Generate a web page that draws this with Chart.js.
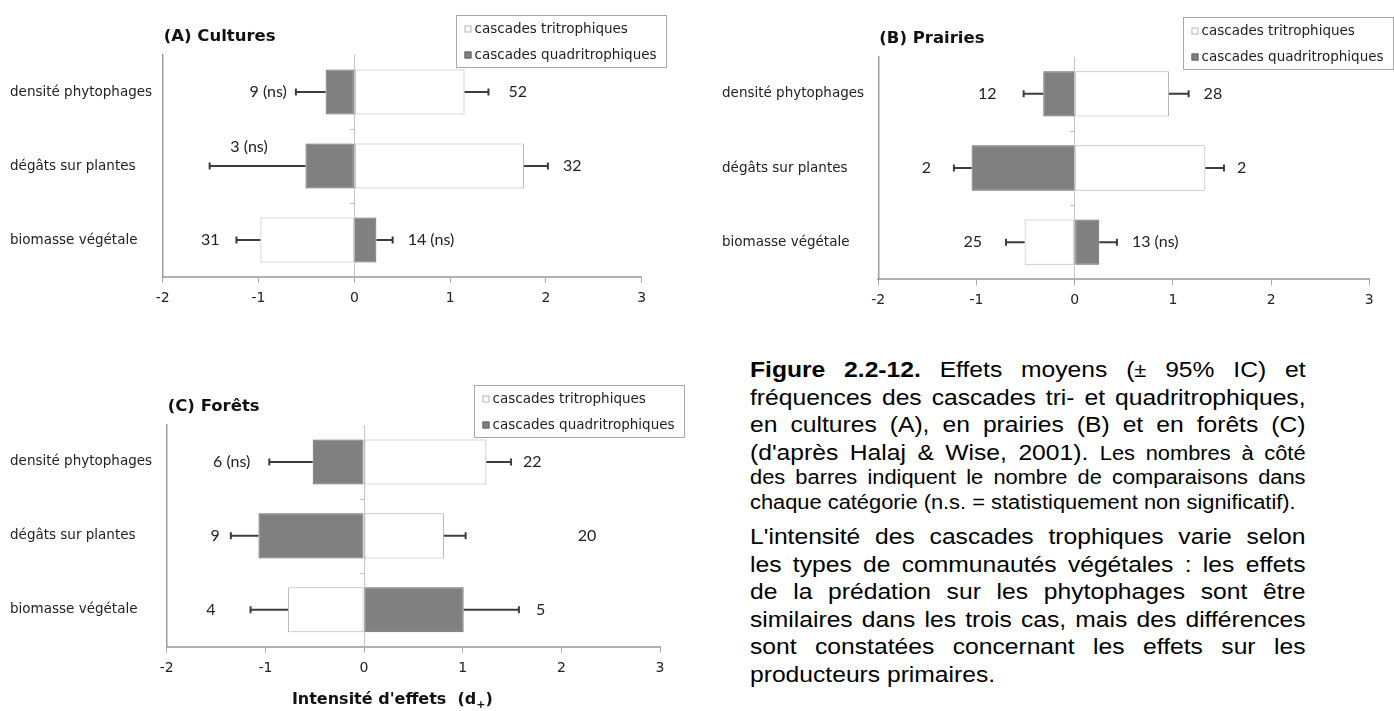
<html>
  <head>
    <!-- Chart.js -->
    <script src="https://cdn.jsdelivr.net/npm/chart.js@4.4.0/dist/chart.umd.min.js"></script>
    <style>
      body {
        margin: 0;
        background: #fff;
        width: 1394px;
        height: 711px;
        overflow: hidden;
        position: relative;
      }
      canvas { position: absolute; }
      #caption {
        position: absolute;
        left: 750px;
        top: 356px;
        width: 496px;
        font-family: 'Liberation Sans', Arial, sans-serif;
        color: #000;
        transform: scaleX(1.12);
        transform-origin: 0 0;
      }
      .ln {
        font-size: 22px;
        height: 27.7px;
        line-height: 27.7px;
        text-align: justify;
        text-align-last: justify;
      }
      .sm { font-size: 19.5px; }
      .last { text-align-last: left; }
    </style>
  </head>

  <body>
    <canvas id="chartA" width="700" height="335" style="left:0px; top:0px;"></canvas>
    <canvas id="chartB" width="694" height="335" style="left:700px; top:0px;"></canvas>
    <canvas id="chartC" width="700" height="371" style="left:0px; top:340px;"></canvas>

    <div id="caption">
      <div class="ln"><b>Figure 2.2-12.</b> Effets moyens (<span class="sm">±</span> 95% IC) et</div>
      <div class="ln">fréquences des cascades tri- et quadritrophiques,</div>
      <div class="ln">en cultures (A), en prairies (B) et en forêts (C)</div>
      <div class="ln" style="height:26.3px;">(d'après Halaj &amp; Wise, 2001). <span class="sm">Les nombres à côté</span></div>
      <div class="ln sm" style="height:25px; line-height:25px;">des barres indiquent le nombre de comparaisons dans</div>
      <div class="ln sm last" style="height:25px; line-height:25px;">chaque catégorie (n.s. = statistiquement non significatif).</div>
      <div class="ln" style="margin-top:7.7px; height:27.6px; line-height:27.6px;">L'intensité des cascades trophiques varie selon</div>
      <div class="ln" style="height:27.6px; line-height:27.6px;">les types de communautés végétales : les effets</div>
      <div class="ln" style="height:27.6px; line-height:27.6px;">de la prédation sur les phytophages sont être</div>
      <div class="ln" style="height:27.6px; line-height:27.6px;">similaires dans les trois cas, mais des différences</div>
      <div class="ln" style="height:27.6px; line-height:27.6px;">sont constatées concernant les effets sur les</div>
      <div class="ln last" style="height:27.6px; line-height:27.6px;">producteurs primaires.</div>
    </div>
  </body>

  <script>
    var categories = ['densité phytophages', 'dégâts sur plantes', 'biomasse végétale'];
    var seriesNames = ['cascades tritrophiques', 'cascades quadritrophiques'];
    var xMin = -2;
    var xMax = 3;

    // (A) Cultures : mean effect, end of the 95% CI, number of comparisons
    var triA = [1.15, 1.77, -0.98];
    var triCiA = [1.40, 2.02, -1.23];
    var triNA = ['52', '32', '31'];
    var quadA = [-0.30, -0.51, 0.23];
    var quadCiA = [-0.61, -1.51, 0.40];
    var quadNA = ['9 (ns)', '3 (ns)', '14 (ns)'];

    // (B) Prairies
    var triB = [0.96, 1.33, -0.51];
    var triCiB = [1.16, 1.52, -0.70];
    var triNB = ['28', '2', '25'];
    var quadB = [-0.32, -1.05, 0.25];
    var quadCiB = [-0.52, -1.23, 0.43];
    var quadNB = ['12', '2', '13 (ns)'];

    // (C) Forêts
    var triC = [1.24, 0.81, -0.77];
    var triCiC = [1.49, 1.03, -1.15];
    var triNC = ['22', '20', '4'];
    var quadC = [-0.52, -1.07, 1.01];
    var quadCiC = [-0.96, -1.35, 1.57];
    var quadNC = ['6 (ns)', '9', '5'];

    // layout of each panel (pixels), kept apart from the data
    var panels = [
      {id: 'chartA', title: '(A) Cultures', tri: triA, triCi: triCiA, triN: triNA, quad: quadA, quadCi: quadCiA, quadN: quadNA,
       pad: {left: 10, top: 55, right: 58.2, bottom: 18}, yWidth: 152.7, xTitle: false,
       triShift: [[5, 0], [0, 0], [-2, 0]], quadShift: [[6, 0], [73, -19], [0, 0]]},
      {id: 'chartB', title: '(B) Prairies', tri: triB, triCi: triCiB, triN: triNB, quad: quadB, quadCi: quadCiB, quadN: quadNB,
       pad: {left: 22, top: 56.7, right: 24.7, bottom: 15.7}, yWidth: 156.3, xTitle: false,
       triShift: [[0, 0], [-2, 0], [-9, 0]], quadShift: [[-12, 0], [-8, 0], [0, 0]]},
      {id: 'chartC', title: '(C) Forêts', tri: triC, triCi: triCiC, triN: triNC, quad: quadC, quadCi: quadCiC, quadN: quadNC,
       pad: {left: 10, top: 85, right: 40, bottom: 24.3}, yWidth: 156.7, xTitle: true,
       triShift: [[-3, 0], [97, 0], [-20, 0]], quadShift: [[-4, 0], [4, 0], [2, 0]]}
    ];

    var labelFont = '"DejaVu Sans", Verdana, sans-serif';

    function drawCi(ctx, xs, y, val, ci) {
      var a = xs.getPixelForValue(val);
      var b = xs.getPixelForValue(ci);
      ctx.beginPath();
      ctx.moveTo(a, y);
      ctx.lineTo(b, y);
      ctx.moveTo(b, y - 3.5);
      ctx.lineTo(b, y + 3.5);
      ctx.stroke();
    }

    function drawCount(ctx, xs, y, ci, text, shift) {
      var px = xs.getPixelForValue(ci);
      if (ci < 0) {
        ctx.textAlign = 'right';
        px = px - 15;
      } else {
        ctx.textAlign = 'left';
        px = px + 15;
      }
      ctx.fillText(text, px + shift[0], y + shift[1]);
    }

    function makeDecor(p) {
      return {
        id: 'decor',
        afterDatasetsDraw: function(chart) {
          var ctx = chart.ctx;
          var xs = chart.scales.x;
          var ys = chart.scales.y;
          var x0 = xs.getPixelForValue(0);
          ctx.save();
          // little marks on the zero line between the categories
          ctx.strokeStyle = '#bdbdbd';
          ctx.lineWidth = 1;
          for (var i = 0; i < categories.length - 1; i++) {
            var yb = Math.round((ys.getPixelForValue(i) + ys.getPixelForValue(i + 1)) / 2) + 0.5;
            ctx.beginPath();
            ctx.moveTo(x0 - 4, yb);
            ctx.lineTo(x0, yb);
            ctx.stroke();
          }
          // 95% CI whiskers
          ctx.strokeStyle = '#3c3c3c';
          ctx.lineWidth = 2;
          for (i = 0; i < categories.length; i++) {
            var y = ys.getPixelForValue(i);
            drawCi(ctx, xs, y, p.tri[i], p.triCi[i]);
            drawCi(ctx, xs, y, p.quad[i], p.quadCi[i]);
          }
          // number of comparisons
          ctx.fillStyle = '#222';
          ctx.font = '16px Lato, "Open Sans", sans-serif';
          ctx.textBaseline = 'middle';
          for (i = 0; i < categories.length; i++) {
            y = ys.getPixelForValue(i);
            drawCount(ctx, xs, y, p.triCi[i], p.triN[i], p.triShift[i]);
            drawCount(ctx, xs, y, p.quadCi[i], p.quadN[i], p.quadShift[i]);
          }
          ctx.restore();
        },
        afterDraw: function(chart) {
          var ctx = chart.ctx;
          var area = chart.chartArea;
          ctx.save();
          // panel title
          ctx.fillStyle = '#111';
          ctx.font = 'bold 16.5px ' + labelFont;
          ctx.textAlign = 'left';
          ctx.textBaseline = 'middle';
          ctx.fillText(p.title, area.left + 1, area.top - 18);

          // legend box
          ctx.font = '13.5px ' + labelFont;
          var w = Math.max(ctx.measureText(seriesNames[0]).width, ctx.measureText(seriesNames[1]).width) + 28;
          var lx = Math.round(area.right + 24 - w) + 0.5;
          var ly = Math.round(area.top - 40) + 0.5;
          ctx.strokeStyle = '#a8a8a8';
          ctx.lineWidth = 1;
          ctx.strokeRect(lx, ly, w, 52);
          var ds = chart.data.datasets;
          for (var i = 0; i < 2; i++) {
            var ry = ly + 14 + i * 26;
            ctx.fillStyle = ds[i].backgroundColor;
            ctx.fillRect(lx + 8, ry - 4, 7, 7);
            ctx.strokeStyle = ds[i].borderColor;
            ctx.strokeRect(lx + 8.5, ry - 3.5, 6, 6);
            ctx.fillStyle = '#1e1e1e';
            ctx.fillText(seriesNames[i], lx + 18, ry);
          }

          // x axis title, with the small + under the d
          if (p.xTitle) {
            var main = "Intensité d'effets  (d";
            ctx.font = 'bold 16px ' + labelFont;
            var wMain = ctx.measureText(main).width;
            var wEnd = ctx.measureText(')').width;
            ctx.font = 'bold 11px ' + labelFont;
            var wSub = ctx.measureText('+').width;
            var cx = (area.left + area.right) / 2 - 21;
            var tx = cx - (wMain + wSub + wEnd) / 2;
            var ty = area.bottom + 53;
            ctx.fillStyle = '#111';
            ctx.font = 'bold 16px ' + labelFont;
            ctx.fillText(main, tx, ty);
            ctx.font = 'bold 11px ' + labelFont;
            ctx.fillText('+', tx + wMain, ty + 5);
            ctx.font = 'bold 16px ' + labelFont;
            ctx.fillText(')', tx + wMain + wSub, ty);
          }
          ctx.restore();
        }
      };
    }

    function drawPanel(p) {
      new Chart(document.getElementById(p.id), {
        type: 'bar',
        data: {
          labels: categories,
          datasets: [
            {
              label: seriesNames[0],
              data: p.tri,
              backgroundColor: '#ffffff',
              borderColor: '#b4b4b4',
              borderWidth: 1,
              borderSkipped: false,
              grouped: false
            }, {
              label: seriesNames[1],
              data: p.quad,
              backgroundColor: '#808080',
              borderColor: '#646464',
              borderWidth: 1,
              borderSkipped: false,
              grouped: false
            }
          ]
        },
        options: {
          indexAxis: 'y',
          responsive: false,
          animation: false,
          layout: { padding: p.pad },
          categoryPercentage: 1,
          barPercentage: 0.61,
          plugins: {
            legend: { display: false },
            tooltip: { enabled: false }
          },
          scales: {
            x: {
              min: xMin,
              max: xMax,
              afterFit: function(scale) { scale.height = 40; },
              ticks: {
                stepSize: 1,
                padding: 7,
                color: '#222',
                font: { family: 'DejaVu Sans', size: 14 }
              },
              grid: {
                color: function(c) { return c.tick && c.tick.value === 0 ? '#c4c4c4' : 'rgba(0,0,0,0)'; },
                tickColor: '#a8a8a8',
                tickLength: 6,
                lineWidth: 1
              },
              border: { display: true, color: '#b0b0b0', width: 2 }
            },
            y: {
              afterFit: function(scale) { scale.width = p.yWidth; },
              ticks: {
                crossAlign: 'far',
                color: '#222',
                font: { family: 'DejaVu Sans', size: 13.5 }
              },
              grid: { display: true, drawOnChartArea: false, drawTicks: false },
              border: { display: true, color: '#9c9c9c', width: 1.5 }
            }
          }
        },
        plugins: [makeDecor(p)]
      });
    }

    for (var i = 0; i < panels.length; i++) {
      drawPanel(panels[i]);
    }
  </script>
</html>
